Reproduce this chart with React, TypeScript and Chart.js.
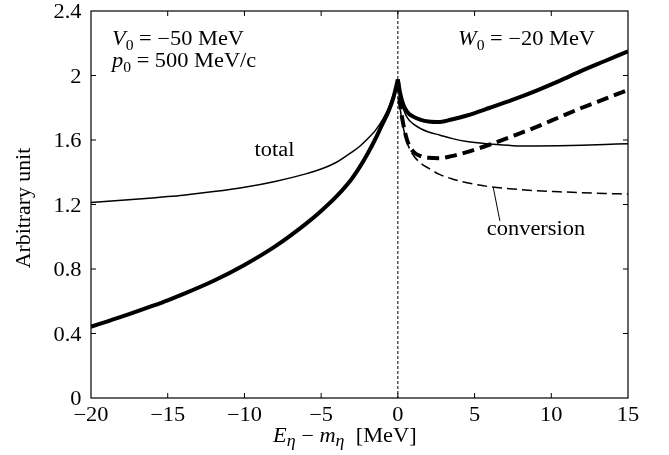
import React, { useEffect, useRef } from "react";
import { Chart, registerables } from "chart.js";

Chart.register(...registerables);

// Energy grid below and above the eta threshold [MeV]
const xBelow = [-20, -18, -16, -15, -14, -12, -10, -8, -6, -5, -4, -3, -2.5, -2, -1.5, -1, -0.6, -0.3, 0];
const xAbove = [0, 0.15, 0.35, 0.6, 1, 1.5, 2, 2.75, 3.5, 4.5, 6, 7.5, 9, 10.5, 12, 13.5, 15];

// Thin solid: total spectrum
const totalThinBelow = [1.213, 1.226, 1.241, 1.249, 1.258, 1.28, 1.307, 1.343, 1.39, 1.42, 1.462, 1.525, 1.56, 1.605, 1.655, 1.725, 1.8, 1.88, 1.975];
const totalThinAbove = [1.975, 1.87, 1.796, 1.74, 1.7, 1.67, 1.65, 1.63, 1.61, 1.59, 1.575, 1.565, 1.563, 1.564, 1.567, 1.572, 1.577];
// Thin dashed: conversion part
const convThinAbove = [1.975, 1.8, 1.68, 1.585, 1.507, 1.455, 1.425, 1.385, 1.36, 1.335, 1.31, 1.296, 1.286, 1.279, 1.273, 1.268, 1.265];

// Thick solid / thick dashed: second spectrum set
const totalThickBelow = [0.442, 0.504, 0.571, 0.606, 0.644, 0.727, 0.825, 0.94, 1.08, 1.16, 1.25, 1.36, 1.43, 1.51, 1.6, 1.7, 1.78, 1.86, 1.975];
const totalThickAbove = [1.975, 1.89, 1.82, 1.775, 1.745, 1.725, 1.715, 1.712, 1.727, 1.752, 1.8, 1.85, 1.905, 1.965, 2.03, 2.09, 2.15];
const convThickAbove = [1.975, 1.82, 1.7, 1.6, 1.528, 1.5, 1.49, 1.487, 1.5, 1.525, 1.572, 1.625, 1.68, 1.74, 1.8, 1.855, 1.91];

// Axis ranges and ticks
const xMin = -20, xMax = 15, xStep = 5;
const yMin = 0, yMax = 2.4, yStep = 0.4;

const SX = 1.12;
const FONT = "'Liberation Serif', 'Times New Roman', serif";
const R = `20px ${FONT}`;
const I = `italic 20px ${FONT}`;
const SUB = `14px ${FONT}`;
const SUBI = `italic 16px ${FONT}`;

type Part = { t: string; f: string; dy?: number };

function textWidth(ctx: CanvasRenderingContext2D, p: Part, sx: number) {
  ctx.font = p.f;
  return ctx.measureText(p.t).width * sx;
}

function drawRich(
  ctx: CanvasRenderingContext2D,
  parts: Part[],
  x: number,
  y: number,
  align: "left" | "center" | "right" = "left",
  sx: number = SX
) {
  const total = parts.reduce((s, p) => s + textWidth(ctx, p, sx), 0);
  let cx = align === "center" ? x - total / 2 : align === "right" ? x - total : x;
  for (const p of parts) {
    const w = textWidth(ctx, p, sx);
    ctx.save();
    ctx.translate(cx, y + (p.dy || 0));
    ctx.scale(sx, 1);
    ctx.font = p.f;
    ctx.textAlign = "left";
    ctx.textBaseline = "alphabetic";
    ctx.fillStyle = "#000";
    ctx.fillText(p.t, 0, 0);
    ctx.restore();
    cx += w;
  }
}

const fmtX = (v: number) => (v < 0 ? "\u2212" + Math.abs(v) : String(v));
const fmtY = (v: number) => String(Number(v.toFixed(1)));

const framePlugin = {
  id: "framePlugin",
  beforeDatasetsDraw(chart: any) {
    const { ctx, chartArea: a, scales } = chart;
    const x0 = scales.x.getPixelForValue(0);
    ctx.save();
    ctx.strokeStyle = "#000";
    ctx.lineWidth = 1;
    ctx.setLineDash([3, 2]);
    ctx.beginPath();
    ctx.moveTo(x0, a.top);
    ctx.lineTo(x0, a.bottom);
    ctx.stroke();
    ctx.restore();
  },
  afterDatasetsDraw(chart: any) {
    const { ctx, chartArea: a, scales } = chart;
    const xs = scales.x;
    const ys = scales.y;
    ctx.save();
    ctx.strokeStyle = "#000";
    ctx.lineWidth = 1.2;
    ctx.setLineDash([]);
    ctx.strokeRect(a.left, a.top, a.right - a.left, a.bottom - a.top);

    const TL = 5;
    ctx.lineWidth = 1;
    ctx.beginPath();
    xs.ticks.forEach((t: any) => {
      const px = xs.getPixelForValue(t.value);
      if (t.value > xMin && t.value < xMax) {
        ctx.moveTo(px, a.bottom);
        ctx.lineTo(px, a.bottom - TL);
        ctx.moveTo(px, a.top);
        ctx.lineTo(px, a.top + TL);
      }
    });
    ys.ticks.forEach((t: any) => {
      const py = ys.getPixelForValue(t.value);
      if (t.value > yMin + 1e-9 && t.value < yMax - 1e-9) {
        ctx.moveTo(a.left, py);
        ctx.lineTo(a.left + TL, py);
        ctx.moveTo(a.right, py);
        ctx.lineTo(a.right - TL, py);
      }
    });
    ctx.stroke();

    // tick labels
    xs.ticks.forEach((t: any) => {
      const px = xs.getPixelForValue(t.value);
      drawRich(ctx, [{ t: fmtX(t.value), f: R }], px, a.bottom + 23, "center");
    });
    ys.ticks.forEach((t: any) => {
      const py = ys.getPixelForValue(t.value);
      drawRich(ctx, [{ t: fmtY(t.value), f: R }], a.left - 9.5, py + 7, "right");
    });

    // axis titles
    drawRich(
      ctx,
      [
        { t: "E", f: I },
        { t: "\u03b7", f: SUBI, dy: 4 },
        { t: " \u2212 ", f: R },
        { t: "m", f: I },
        { t: "\u03b7", f: SUBI, dy: 4 },
        { t: "  [MeV]", f: R },
      ],
      273,
      441.5,
      "left"
    );
    ctx.save();
    ctx.translate(30, 208);
    ctx.rotate(-Math.PI / 2);
    drawRich(ctx, [{ t: "Arbitrary unit", f: R }], 0, 0, "center", 1.09);
    ctx.restore();

    // parameter annotations
    drawRich(ctx, [{ t: "V", f: I }, { t: "0", f: SUB, dy: 5 }, { t: " = \u221250 MeV", f: R }], 112, 45);
    drawRich(ctx, [{ t: "p", f: I }, { t: "0", f: SUB, dy: 5 }, { t: " = 500 MeV/c", f: R }], 112, 67);
    drawRich(ctx, [{ t: "W", f: I }, { t: "0", f: SUB, dy: 5 }, { t: " = \u221220 MeV", f: R }], 458, 45);

    // curve labels
    drawRich(ctx, [{ t: "total", f: R }], xs.getPixelForValue(-8.04), ys.getPixelForValue(1.498), "center");
    drawRich(ctx, [{ t: "conversion", f: R }], xs.getPixelForValue(5.8), ys.getPixelForValue(1.012), "left");
    ctx.lineWidth = 1;
    ctx.beginPath();
    ctx.moveTo(xs.getPixelForValue(6.22), ys.getPixelForValue(1.305));
    ctx.lineTo(xs.getPixelForValue(6.65), ys.getPixelForValue(1.098));
    ctx.stroke();
    ctx.restore();
  },
};

const pts = (xs: number[], ys: number[]) => xs.map((x, i) => ({ x, y: ys[i] }));

export default function App() {
  const ref = useRef<HTMLCanvasElement | null>(null);

  useEffect(() => {
    if (!ref.current) return;
    const thin = { borderColor: "#000", borderWidth: 1.5, pointRadius: 0, fill: false, cubicInterpolationMode: "monotone" as const };
    const thick = { borderColor: "#000", borderWidth: 4, pointRadius: 0, fill: false, cubicInterpolationMode: "monotone" as const };
    const chart = new Chart(ref.current, {
      type: "line",
      data: {
        datasets: [
          { label: "total", data: pts(xBelow, totalThinBelow), ...thin },
          { label: "total", data: pts(xAbove, totalThinAbove), ...thin },
          { label: "conversion", data: pts(xAbove, convThinAbove), ...thin, borderDash: [10, 5] },
          { label: "total (thick)", data: pts(xBelow, totalThickBelow), ...thick },
          { label: "total (thick)", data: pts(xAbove, totalThickAbove), ...thick },
          { label: "conversion (thick)", data: pts(xAbove, convThickAbove), ...thick, borderDash: [12, 6] },
        ],
      },
      options: {
        responsive: false,
        animation: false,
        events: [],
        layout: { padding: { left: 0, top: 11, right: 41, bottom: 0 } },
        plugins: { legend: { display: false }, tooltip: { enabled: false }, title: { display: false } },
        scales: {
          x: {
            type: "linear",
            min: xMin,
            max: xMax,
            ticks: { display: false, stepSize: xStep },
            grid: { display: false, drawTicks: false },
            border: { display: false },
            afterFit: (s: any) => {
              s.height = 57;
            },
          },
          y: {
            type: "linear",
            min: yMin,
            max: yMax,
            ticks: { display: false, stepSize: yStep },
            grid: { display: false, drawTicks: false },
            border: { display: false },
            afterFit: (s: any) => {
              s.width = 91;
            },
          },
        },
      },
      plugins: [framePlugin],
    });
    return () => chart.destroy();
  }, []);

  return (
    <div style={{ position: "absolute", left: 0, top: 0, width: 669, height: 455, background: "#fff" }}>
      <canvas ref={ref} width={669} height={455} style={{ display: "block" }} />
    </div>
  );
}
